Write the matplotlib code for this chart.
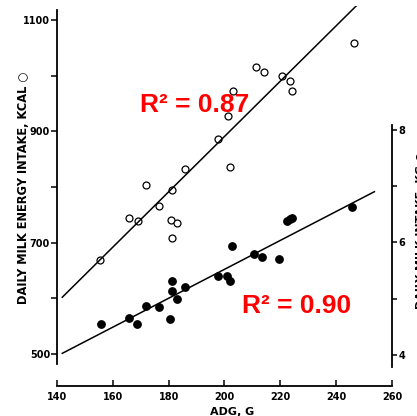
import matplotlib
matplotlib.use('Agg')
import matplotlib.pyplot as plt
import numpy as np

# ADG (g) and daily milk energy intake (kcal), open circles
adg_open = [246.5, 211.2, 214.3, 220.5, 223.5, 224.3, 203.0, 201.2, 197.8, 202.0,
            185.9, 171.8, 181.1, 176.7, 165.8, 169.1, 180.9, 182.9, 181.1, 155.4]
energy_open = [1058, 1016, 1006, 1000, 991, 973, 973, 928, 887, 836,
               833, 803, 794, 765, 745, 739, 740, 736, 709, 669]

# ADG (g) and right axis values, filled circles
adg_filled = [245.8, 222.3, 223.3, 224.2, 202.7, 210.7, 213.6, 219.6, 197.8, 200.8, 202.0,
              181.1, 181.1, 185.7, 182.9, 171.8, 176.6, 165.8, 168.8, 155.8, 180.5]
intake_filled = [6.63, 6.39, 6.42, 6.44, 5.94, 5.80, 5.74, 5.71, 5.41, 5.40, 5.32,
                 5.32, 5.14, 5.20, 5.00, 4.87, 4.85, 4.66, 4.55, 4.55, 4.64]

# regression lines as drawn in the figure (x range, intercept at x0, slope)
fit_open_x = [141.9, 247.2]
fit_open_b0, fit_open_b1 = 602.0, 4.97
fit_filled_x = [141.9, 253.7]
fit_filled_b0, fit_filled_b1 = 4.03, 0.0257

xticks = [140, 160, 180, 200, 220, 240, 260]
left_major = [500, 700, 900, 1100]
left_minor = [600, 800, 1000]
right_major = [4, 6, 8]
right_minor = [5, 7]

W, H = 417, 416
fig = plt.figure(figsize=(W / 100, H / 100), dpi=100)
ax = fig.add_axes([57 / W, 48 / H, 335 / W, 362 / H])
ax.set_xlim(140, 260)
ax.set_ylim(474.85, 1125.1)
ax2 = ax.twinx()
ax2.set_ylim(3.769, 10.204)

tickfont = dict(fontsize=7, fontweight='bold', family='DejaVu Sans')

# spines
for s in ['top', 'right']:
    ax.spines[s].set_visible(False)
for s in ['top', 'left', 'bottom']:
    ax2.spines[s].set_visible(False)
ax.spines['left'].set_bounds(482, 1118)
ax.spines['bottom'].set_position(('outward', 13))
ax.spines['bottom'].set_bounds(140, 260)
ax2.spines['right'].set_bounds(3.79, 8.09)
for sp in [ax.spines['left'], ax.spines['bottom'], ax2.spines['right']]:
    sp.set_linewidth(1.3)

# ticks
ax.set_xticks(xticks)
ax.set_xticklabels([str(t) for t in xticks], **tickfont)
ax.tick_params(axis='x', direction='in', length=4, width=1.1, pad=4)
ax.set_yticks(left_major)
ax.set_yticks(left_minor, minor=True)
ax.set_yticklabels([str(t) for t in left_major], **tickfont)
ax.tick_params(axis='y', which='both', direction='out', length=4.5, width=1.1, pad=0.5)
ax2.set_yticks(right_major)
ax2.set_yticks(right_minor, minor=True)
ax2.set_yticklabels([str(t) for t in right_major], **tickfont)
ax2.tick_params(axis='y', which='both', direction='out', length=3.5, width=1.1, pad=1)

# data
ax.plot(adg_open, energy_open, 'o', ls='none', mfc='white', mec='black', ms=5, mew=0.9)
ax2.plot(adg_filled, intake_filled, 'o', ls='none', color='black', ms=5.3)

fx = np.array(fit_open_x)
ax.plot(fx, fit_open_b0 + fit_open_b1 * (fx - fx[0]), color='black', lw=1.1)
fx2 = np.array(fit_filled_x)
ax2.plot(fx2, fit_filled_b0 + fit_filled_b1 * (fx2 - fx2[0]), color='black', lw=1.1)

# annotations
rfont = dict(color='red', fontsize=19, fontweight='bold', family='Liberation Sans')
ax2.text(169.7, 935, 'R² = 0.87', transform=ax.transData, va='baseline', ha='left', **rfont)
ax2.text(206.3, 573, 'R² = 0.90', transform=ax.transData, va='baseline', ha='left', **rfont)

# axis labels
fig.text(24 / W, 1 - 188 / H, 'DAILY MILK ENERGY INTAKE, KCAL ○', rotation=90,
         ha='center', va='center', fontsize=8.3, fontweight='bold')
fig.text(232 / W, 1 - 412 / H, 'ADG, G', ha='center', va='center',
         fontsize=8, fontweight='bold')
fig.text(420.5 / W, 1 - 230 / H, 'DAILY MILK INTAKE, KG ●', rotation=90,
         ha='center', va='center', fontsize=8, fontweight='bold')

fig.savefig('out.png', dpi=100)
